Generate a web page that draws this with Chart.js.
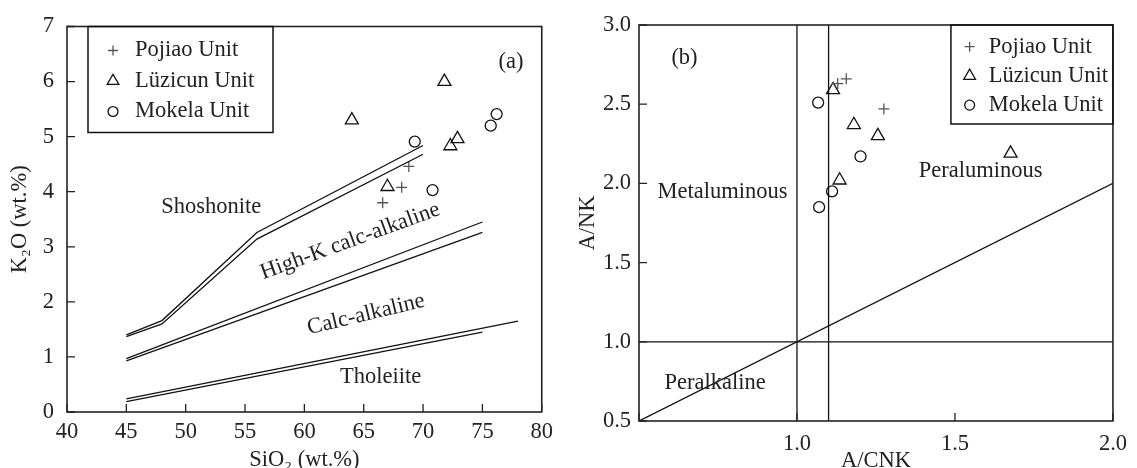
<!DOCTYPE html>
<html>
<head>
<meta charset="utf-8">
<script src="https://cdn.jsdelivr.net/npm/chart.js@4.4.1/dist/chart.umd.min.js"></script>
<style>
  body { margin: 0; background: #fff; }
  canvas { position: absolute; top: 0; }
</style>
</head>
<body>
<canvas id="chartA" width="560" height="468" style="left:0"></canvas>
<canvas id="chartB" width="577" height="468" style="left:560px"></canvas>
<script>
// ---- panel (a): SiO2 vs K2O ----
const pojiaoSiO2 = [68.8, 68.2, 66.6];
const pojiaoK2O = [4.46, 4.08, 3.80];
const luzicunSiO2 = [64.0, 71.8, 72.9, 72.3, 67.0];
const luzicunK2O = [5.30, 6.00, 4.96, 4.83, 4.09];
const mokelaSiO2 = [69.3, 70.8, 76.2, 75.7];
const mokelaK2O = [4.91, 4.03, 5.41, 5.20];

// boundary lines, each drawn as a double line
const shoshUpper = [[45, 1.40], [48, 1.66], [56, 3.26], [70, 4.84]];
const shoshLower = [[45, 1.37], [48, 1.60], [56, 3.14], [70, 4.68]];
const highKUpper = [[45, 0.97], [75, 3.45]];
const highKLower = [[45, 0.93], [75, 3.26]];
const tholUpper = [[45, 0.24], [78, 1.65]];
const tholLower = [[45, 0.19], [75, 1.45]];

// ---- panel (b): A/CNK vs A/NK ----
const pojiaoACNK = [1.156, 1.129, 1.275];
const pojiaoANK = [2.66, 2.63, 2.47];
const luzicunACNK = [1.114, 1.180, 1.135, 1.256, 1.676];
const luzicunANK = [2.59, 2.37, 2.02, 2.30, 2.19];
const mokelaACNK = [1.067, 1.111, 1.070, 1.201];
const mokelaANK = [2.51, 1.95, 1.85, 2.17];

const metalLine = [[1.0, 0.5], [1.0, 3.0]];
const peralLine = [[1.1, 0.5], [1.1, 3.0]];
const ankLine = [[0.5, 1.0], [2.0, 1.0]];
const diagLine = [[0.5, 0.5], [2.0, 2.0]];

const unitNames = ['Pojiao Unit', 'Lüzicun Unit', 'Mokela Unit'];

const serif = '"Liberation Serif", "Times New Roman", serif';
const ink = '#222';
const fontSize = 22.5;

function pts(xs, ys) {
  return xs.map((v, i) => ({x: v, y: ys[i]}));
}
function linePts(arr) {
  return arr.map(p => ({x: p[0], y: p[1]}));
}

function lineSet(arr) {
  return {
    data: linePts(arr),
    showLine: true,
    pointRadius: 0,
    borderColor: '#111',
    borderWidth: 1.3,
    fill: false
  };
}

function unitSets(xsList, ysList) {
  const styles = [
    {pointStyle: 'cross', pointRadius: 5.5, borderColor: '#555'},
    {pointStyle: 'triangle', pointRadius: 7.5, borderColor: '#111'},
    {pointStyle: 'circle', pointRadius: 5.5, borderColor: '#111'}
  ];
  return styles.map((s, i) => Object.assign({
    label: unitNames[i],
    legend: true,
    data: pts(xsList[i], ysList[i]),
    backgroundColor: 'rgba(0,0,0,0)',
    borderWidth: 1.3,
    showLine: false
  }, s));
}

// frame, inward ticks, field names and the boxed legend
const decor = {
  id: 'decor',
  afterDraw(chart, args, o) {
    const {ctx, chartArea: a, scales: {x, y}} = chart;
    ctx.save();
    ctx.strokeStyle = ink;
    ctx.lineWidth = 1.3;
    ctx.beginPath();
    x.ticks.forEach(t => {
      const px = x.getPixelForValue(t.value);
      ctx.moveTo(px, a.bottom);
      ctx.lineTo(px, a.bottom - 8);
    });
    y.ticks.forEach(t => {
      const py = y.getPixelForValue(t.value);
      ctx.moveTo(a.left, py);
      ctx.lineTo(a.left + 8, py);
    });
    ctx.stroke();

    ctx.lineWidth = 1.6;
    ctx.strokeRect(a.left, a.top, a.right - a.left, a.bottom - a.top);

    ctx.fillStyle = ink;
    ctx.font = fontSize + 'px ' + serif;
    ctx.textAlign = 'center';
    ctx.textBaseline = 'middle';
    o.labels.forEach(l => {
      ctx.save();
      ctx.translate(x.getPixelForValue(l.x), y.getPixelForValue(l.y));
      ctx.rotate((l.angle || 0) * Math.PI / 180);
      ctx.fillText(l.text, 0, 0);
      ctx.restore();
    });

    // legend box
    const L = o.legend;
    const left = L.fromRight ? a.right - L.width : a.left + L.offset;
    const top = a.top;
    ctx.lineWidth = 1.5;
    ctx.strokeStyle = '#111';
    ctx.strokeRect(left, top, L.width, L.height);
    chart.data.datasets.filter(d => d.legend).forEach((d, i) => {
      const cy = top + L.first + i * L.gap;
      ctx.save();
      ctx.strokeStyle = d.borderColor;
      ctx.fillStyle = 'rgba(0,0,0,0)';
      ctx.lineWidth = d.borderWidth;
      Chart.helpers.drawPoint(ctx, {pointStyle: d.pointStyle, radius: d.pointRadius * 0.9, borderWidth: d.borderWidth, rotation: 0}, left + L.mark, cy);
      ctx.restore();
      ctx.fillStyle = ink;
      ctx.textAlign = 'left';
      ctx.fillText(d.label, left + L.text, cy);
    });
    ctx.restore();
  }
};

function axis(opts) {
  return {
    type: 'linear',
    min: opts.min,
    max: opts.max,
    border: {display: false},
    grid: {display: false, drawTicks: false},
    ticks: {
      stepSize: opts.step,
      color: ink,
      padding: opts.pad,
      autoSkip: false,
      maxRotation: 0,
      font: {family: serif, size: fontSize},
      callback: opts.fmt
    },
    title: {
      display: true,
      text: opts.title,
      color: ink,
      font: {family: serif, size: fontSize, lineHeight: 1},
      padding: opts.titlePad
    },
    afterFit: opts.fit
  };
}

new Chart(document.getElementById('chartA'), {
  type: 'scatter',
  data: {
    datasets: [
      lineSet(shoshUpper), lineSet(shoshLower),
      lineSet(highKUpper), lineSet(highKLower),
      lineSet(tholUpper), lineSet(tholLower)
    ].concat(unitSets([pojiaoSiO2, luzicunSiO2, mokelaSiO2], [pojiaoK2O, luzicunK2O, mokelaK2O]))
  },
  options: {
    responsive: false,
    animation: false,
    events: [],
    layout: {padding: {top: 21, right: 12, left: 0, bottom: 0}},
    scales: {
      x: axis({min: 40, max: 80, step: 5, pad: 7, title: 'SiO₂ (wt.%)',
        titlePad: {top: 0, bottom: -3.25}, fmt: v => String(v), fit: s => { s.height = 56; }}),
      y: axis({min: 0, max: 7, step: 1, pad: 13, title: 'K₂O (wt.%)',
        titlePad: {top: 8.75, bottom: 0}, fmt: v => String(v), fit: s => { s.width = 67; }})
    },
    plugins: {
      legend: {display: false},
      tooltip: {enabled: false},
      decor: {
        labels: [
          {text: 'Shoshonite', x: 52.16, y: 3.72},
          {text: 'High-K calc-alkaline', x: 63.86, y: 3.10, angle: -20},
          {text: 'Calc-alkaline', x: 65.19, y: 1.77, angle: -13.5},
          {text: 'Tholeiite', x: 66.43, y: 0.63},
          {text: '(a)', x: 77.4, y: 6.36}
        ],
        legend: {offset: 21, width: 185, height: 106, first: 24, gap: 30.5, mark: 25, text: 47}
      }
    }
  },
  plugins: [decor]
});

new Chart(document.getElementById('chartB'), {
  type: 'scatter',
  data: {
    datasets: [
      lineSet(metalLine), lineSet(peralLine), lineSet(ankLine), lineSet(diagLine)
    ].concat(unitSets([pojiaoACNK, luzicunACNK, mokelaACNK], [pojiaoANK, luzicunANK, mokelaANK]))
  },
  options: {
    responsive: false,
    animation: false,
    events: [],
    layout: {padding: {top: 25, right: 16, left: 0, bottom: 0}},
    scales: {
      x: axis({min: 0.5, max: 2.0, step: 0.5, pad: 10, title: 'A/CNK',
        titlePad: {top: 0, bottom: -4.25}, fmt: v => (v === 0.5 ? '' : v.toFixed(1)), fit: s => { s.height = 47; }}),
      y: axis({min: 0.5, max: 3.0, step: 0.5, pad: 8, title: 'A/NK',
        titlePad: {top: 16.75, bottom: 0}, fmt: v => v.toFixed(1), fit: s => { s.width = 79; }})
    },
    plugins: {
      legend: {display: false},
      tooltip: {enabled: false},
      decor: {
        labels: [
          {text: 'Metaluminous', x: 0.764, y: 1.942},
          {text: 'Peraluminous', x: 1.581, y: 2.075},
          {text: 'Peralkaline', x: 0.741, y: 0.738},
          {text: '(b)', x: 0.644, y: 2.793}
        ],
        legend: {fromRight: true, width: 162, height: 99, first: 21.7, gap: 29.2, mark: 18.7, text: 37.7}
      }
    }
  },
  plugins: [decor]
});
</script>
</body>
</html>
